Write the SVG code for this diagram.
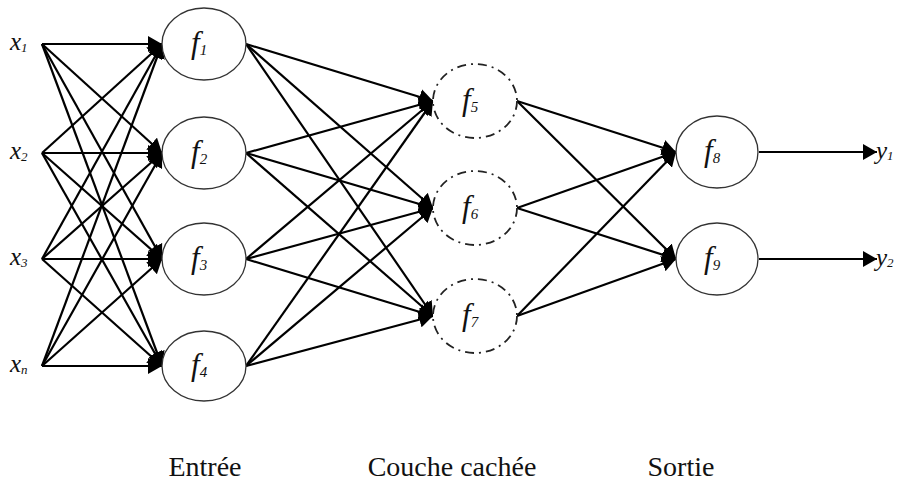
<svg xmlns="http://www.w3.org/2000/svg" width="898" height="481" viewBox="0 0 898 481">
<style>
.n{fill:#fff;stroke:#333;stroke-width:1.3}
.h{fill:#fff;stroke:#222;stroke-width:1.8;stroke-dasharray:9 5 2 5}
.c line{stroke:#000;stroke-width:2.2;marker-end:url(#a)}
.f{font-family:"Liberation Serif",serif;font-style:italic;font-size:31px;fill:#111}
.s{font-size:15px}
.x{font-family:"Liberation Serif",serif;font-style:italic;font-size:25px;fill:#111}
.xs{font-size:13px}
.b{font-family:"Liberation Serif",serif;font-size:28px;fill:#111;text-anchor:middle}
</style>
<defs>
<marker id="a" markerUnits="userSpaceOnUse" viewBox="0 0 14 16" refX="14" refY="8" markerWidth="14" markerHeight="16" orient="auto">
<path d="M0,0 L14,8 L0,16 Z" fill="#000"/>
</marker>
</defs>
<rect width="898" height="481" fill="#fff"/>
<g class="c" id="connectors">
<line x1="42" y1="44" x2="162" y2="44"/>
<line x1="42" y1="44" x2="162" y2="153"/>
<line x1="42" y1="44" x2="162" y2="259"/>
<line x1="42" y1="44" x2="162" y2="366"/>
<line x1="42" y1="153" x2="162" y2="44"/>
<line x1="42" y1="153" x2="162" y2="153"/>
<line x1="42" y1="153" x2="162" y2="259"/>
<line x1="42" y1="153" x2="162" y2="366"/>
<line x1="42" y1="259" x2="162" y2="44"/>
<line x1="42" y1="259" x2="162" y2="153"/>
<line x1="42" y1="259" x2="162" y2="259"/>
<line x1="42" y1="259" x2="162" y2="366"/>
<line x1="42" y1="366" x2="162" y2="44"/>
<line x1="42" y1="366" x2="162" y2="153"/>
<line x1="42" y1="366" x2="162" y2="259"/>
<line x1="42" y1="366" x2="162" y2="366"/>
<line x1="246" y1="44" x2="433" y2="101"/>
<line x1="246" y1="44" x2="433" y2="208"/>
<line x1="246" y1="44" x2="433" y2="316"/>
<line x1="246" y1="153" x2="433" y2="101"/>
<line x1="246" y1="153" x2="433" y2="208"/>
<line x1="246" y1="153" x2="433" y2="316"/>
<line x1="246" y1="259" x2="433" y2="101"/>
<line x1="246" y1="259" x2="433" y2="208"/>
<line x1="246" y1="259" x2="433" y2="316"/>
<line x1="246" y1="366" x2="433" y2="101"/>
<line x1="246" y1="366" x2="433" y2="208"/>
<line x1="246" y1="366" x2="433" y2="316"/>
<line x1="517" y1="101" x2="676" y2="152"/>
<line x1="517" y1="101" x2="676" y2="259"/>
<line x1="517" y1="208" x2="676" y2="152"/>
<line x1="517" y1="208" x2="676" y2="259"/>
<line x1="517" y1="316" x2="676" y2="152"/>
<line x1="517" y1="316" x2="676" y2="259"/>
<line x1="759" y1="152" x2="877" y2="152"/>
<line x1="759" y1="259" x2="877" y2="259"/>
</g>
<g id="x1"><text class="x" x="10" y="50">x<tspan class="xs" dy="2">1</tspan></text></g>
<g id="x2"><text class="x" x="10" y="159">x<tspan class="xs" dy="2">2</tspan></text></g>
<g id="x3"><text class="x" x="10" y="265">x<tspan class="xs" dy="2">3</tspan></text></g>
<g id="xn"><text class="x" x="10" y="372">x<tspan class="xs" dy="2">n</tspan></text></g>
<g id="f1"><ellipse class="n" cx="204" cy="44" rx="42" ry="36"/><text class="f" x="191" y="53">f<tspan class="s" dy="2">1</tspan></text></g>
<g id="f2"><ellipse class="n" cx="204" cy="153" rx="42" ry="36"/><text class="f" x="191" y="162">f<tspan class="s" dy="2">2</tspan></text></g>
<g id="f3"><ellipse class="n" cx="204" cy="259" rx="42" ry="36"/><text class="f" x="191" y="268">f<tspan class="s" dy="2">3</tspan></text></g>
<g id="f4"><ellipse class="n" cx="204" cy="366" rx="42" ry="35"/><text class="f" x="191" y="375">f<tspan class="s" dy="2">4</tspan></text></g>
<g id="f5"><ellipse class="h" cx="475" cy="101" rx="42" ry="37"/><text class="f" x="462" y="110">f<tspan class="s" dy="2">5</tspan></text></g>
<g id="f6"><ellipse class="h" cx="475" cy="208" rx="42" ry="37"/><text class="f" x="462" y="217">f<tspan class="s" dy="2">6</tspan></text></g>
<g id="f7"><ellipse class="h" cx="475" cy="316" rx="42" ry="37"/><text class="f" x="462" y="325">f<tspan class="s" dy="2">7</tspan></text></g>
<g id="f8"><ellipse class="n" cx="717" cy="152" rx="41" ry="36"/><text class="f" x="704" y="161">f<tspan class="s" dy="2">8</tspan></text></g>
<g id="f9"><ellipse class="n" cx="717" cy="259" rx="41" ry="36"/><text class="f" x="704" y="268">f<tspan class="s" dy="2">9</tspan></text></g>
<g id="y1"><text class="x" x="876" y="159">y<tspan class="xs" dy="1">1</tspan></text></g>
<g id="y2"><text class="x" x="876" y="266">y<tspan class="xs" dy="1">2</tspan></text></g>
<g id="labels">
<text class="b" x="205" y="476">Entrée</text>
<text class="b" x="452" y="476">Couche cachée</text>
<text class="b" x="681" y="476">Sortie</text>
</g>
</svg>
